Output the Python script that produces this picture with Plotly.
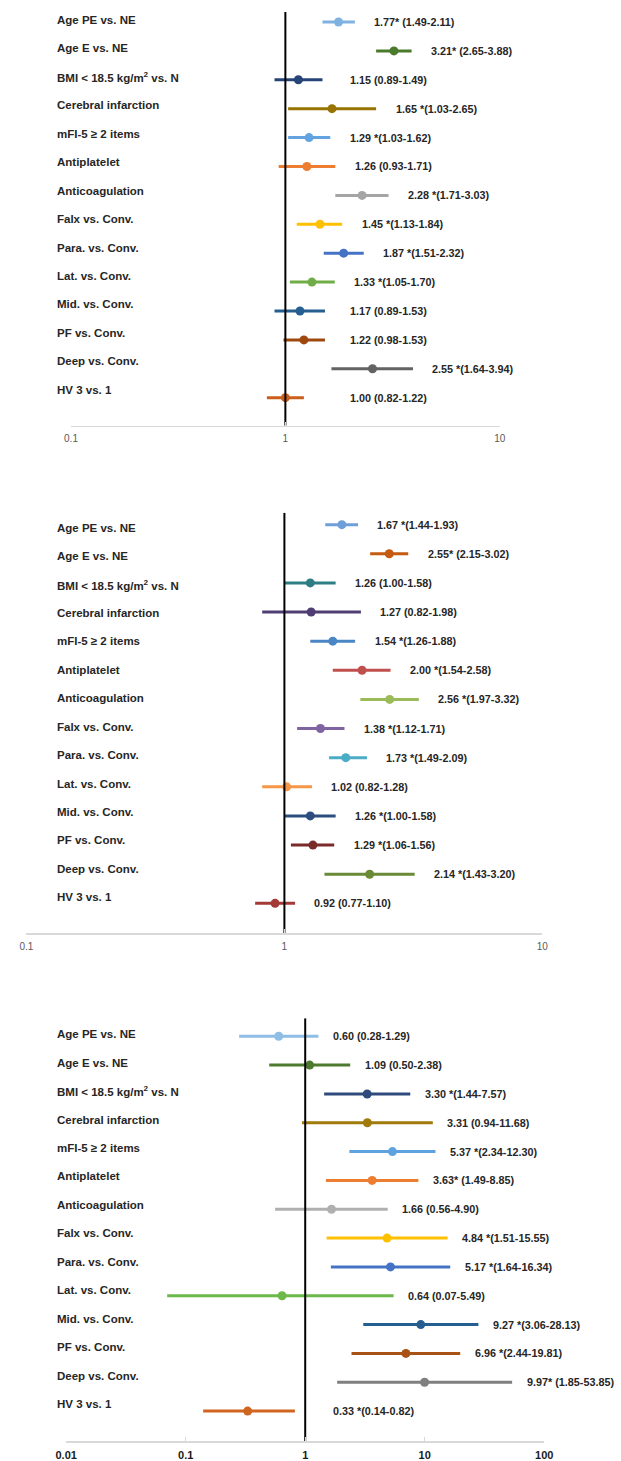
import math
import plotly.graph_objects as go

# ---------------- data ----------------
categories = [
    "Age PE vs. NE", "Age E vs. NE", "BMI < 18.5 kg/m<sup>2</sup> vs. N",
    "Cerebral infarction", "mFI-5 \u2265 2 items", "Antiplatelet", "Anticoagulation",
    "Falx vs. Conv.", "Para. vs. Conv.", "Lat. vs. Conv.", "Mid. vs. Conv.",
    "PF vs. Conv.", "Deep vs. Conv.", "HV 3 vs. 1",
]

p1_or = [1.77, 3.21, 1.15, 1.65, 1.29, 1.26, 2.28, 1.45, 1.87, 1.33, 1.17, 1.22, 2.55, 1.00]
p1_lo = [1.49, 2.65, 0.89, 1.03, 1.03, 0.93, 1.71, 1.13, 1.51, 1.05, 0.89, 0.98, 1.64, 0.82]
p1_hi = [2.11, 3.88, 1.49, 2.65, 1.62, 1.71, 3.03, 1.84, 2.32, 1.70, 1.53, 1.53, 3.94, 1.22]
p1_sig = ["* ", "* ", " ", " *", " *", " ", " *", " *", " *", " *", " ", " ", " *", " "]

p2_or = [1.67, 2.55, 1.26, 1.27, 1.54, 2.00, 2.56, 1.38, 1.73, 1.02, 1.26, 1.29, 2.14, 0.92]
p2_lo = [1.44, 2.15, 1.00, 0.82, 1.26, 1.54, 1.97, 1.12, 1.49, 0.82, 1.00, 1.06, 1.43, 0.77]
p2_hi = [1.93, 3.02, 1.58, 1.98, 1.88, 2.58, 3.32, 1.71, 2.09, 1.28, 1.58, 1.56, 3.20, 1.10]
p2_sig = [" *", "* ", " ", " ", " *", " *", " *", " *", " *", " ", " *", " *", " *", " "]

p3_or = [0.60, 1.09, 3.30, 3.31, 5.37, 3.63, 1.66, 4.84, 5.17, 0.64, 9.27, 6.96, 9.97, 0.33]
p3_lo = [0.28, 0.50, 1.44, 0.94, 2.34, 1.49, 0.56, 1.51, 1.64, 0.07, 3.06, 2.44, 1.85, 0.14]
p3_hi = [1.29, 2.38, 7.57, 11.68, 12.30, 8.85, 4.90, 15.55, 16.34, 5.49, 28.13, 19.81, 53.85, 0.82]
p3_sig = [" ", " ", " *", " ", " *", "* ", " ", " *", " *", " ", " *", " *", "* ", " *"]

ticks_12 = ["0.1", "1", "10"]
ticks_3 = ["0.01", "0.1", "1", "10", "100"]

# ---------------- styles ----------------
colors_1 = ["#7fb2e0", "#4a7a2c", "#264478", "#997300", "#62a3e0", "#ed7d31", "#a5a5a5",
            "#ffc000", "#4472c4", "#70ad47", "#255e91", "#9e480e", "#636363", "#c95f1a"]
colors_2 = ["#6f9fd8", "#c55a11", "#2e7d85", "#4f3d73", "#4a86c5", "#c0504d", "#9bbb59",
            "#8064a2", "#4bacc6", "#f79646", "#2c4d80", "#7a2a28", "#6a8a37", "#a33a38"]
colors_3 = ["#8ebde6", "#4e7a30", "#2f4b7c", "#a07a0a", "#5ea3e0", "#ed7d31", "#b0b0b0",
            "#ffc000", "#4472c4", "#6cb84a", "#255e91", "#a85315", "#7f7f7f", "#cf651f"]

W, H = 621, 1461
FONT = "Liberation Sans, Arial, sans-serif"


def fx(px):
    return px / W


def fy(px):
    return 1 - px / H


panels = [
    dict(orv=p1_or, lo=p1_lo, hi=p1_hi, sig=p1_sig, colors=colors_1, ticks=ticks_12,
         xpx=(62, 505), top=12, axis=426, row0=22, step=28.92, lab0=20, labstep=28.46,
         base_px=348, gap_px=18, tickcolor="#595959", tickbold=False),
    dict(orv=p2_or, lo=p2_lo, hi=p2_hi, sig=p2_sig, colors=colors_2, ticks=ticks_12,
         xpx=(16, 549), top=513, axis=934, row0=525, step=29.15, lab0=528, labstep=28.46,
         base_px=None, gap_px=18, tickcolor="#595959", tickbold=False),
    dict(orv=p3_or, lo=p3_lo, hi=p3_hi, sig=p3_sig, colors=colors_3, ticks=ticks_3,
         xpx=(57, 551), top=1019, axis=1442, row0=1037, step=28.85, lab0=1035, labstep=28.46,
         base_px=331, gap_px=13, tickcolor="#1a1a1a", tickbold=True),
]

fig = go.Figure()
layout = dict(width=W, height=H, margin=dict(l=0, r=0, t=0, b=0, pad=0),
              paper_bgcolor="white", plot_bgcolor="white", showlegend=False,
              font=dict(family=FONT), hovermode=False)
annotations = []

for k, p in enumerate(panels):
    n = k + 1
    xa = "x" if n == 1 else f"x{n}"
    ya = "y" if n == 1 else f"y{n}"
    tickv = [float(t) for t in p["ticks"]]
    lmin, lmax = math.log10(tickv[0]), math.log10(tickv[-1])
    decade_px = (p["xpx"][1] - p["xpx"][0]) / (lmax - lmin)
    ytop = -(p["row0"] - p["top"]) / p["step"]
    ybot = (p["axis"] - p["row0"]) / p["step"]

    ticktext = [f"<b>{t}</b>" if p["tickbold"] else t for t in p["ticks"]]
    layout["xaxis" if n == 1 else f"xaxis{n}"] = dict(
        type="log", range=[lmin, lmax],
        domain=[fx(p["xpx"][0]), fx(p["xpx"][1])], anchor=ya,
        showgrid=False, zeroline=False, showline=True, linecolor="#d9d9d9", linewidth=1.5,
        ticks="inside", ticklen=4, tickcolor="#d9d9d9", tickwidth=1,
        tickvals=tickv, ticktext=ticktext, ticklabelstandoff=3,
        tickfont=dict(size=11 if p["tickbold"] else 10, color=p["tickcolor"], family=FONT),
        fixedrange=True,
    )
    layout["yaxis" if n == 1 else f"yaxis{n}"] = dict(
        range=[ybot, ytop], domain=[fy(p["axis"]), fy(p["top"])], anchor=xa,
        visible=False, fixedrange=True,
    )

    for i, cat in enumerate(categories):
        c = p["colors"][i]
        fig.add_trace(go.Scatter(
            x=[p["orv"][i]], y=[i], mode="markers", xaxis=xa, yaxis=ya,
            marker=dict(size=9, color=c),
            error_x=dict(type="data", symmetric=False,
                         array=[p["hi"][i] - p["orv"][i]],
                         arrayminus=[p["orv"][i] - p["lo"][i]],
                         thickness=3, width=0, color=c),
            hoverinfo="skip",
        ))
        # category label
        annotations.append(dict(
            text=f"<b>{cat}</b>", xref="paper", yref="paper",
            x=fx(45), y=fy(p["lab0"] + i * p["labstep"]),
            xanchor="left", yanchor="middle", showarrow=False,
            font=dict(size=11.5, color="#262626", family=FONT),
        ))
        # value label
        xt = math.log10(p["hi"][i]) + p["gap_px"] / decade_px
        if p["base_px"] is not None:
            base = (p["base_px"] - p["xpx"][0]) / decade_px + lmin
            xt = max(xt, base)
        txt = f"{p['orv'][i]:.2f}{p['sig'][i]}({p['lo'][i]:.2f}-{p['hi'][i]:.2f})"
        annotations.append(dict(
            text=f"<b>{txt}</b>", xref=xa, yref=ya, x=xt, y=i,
            xanchor="left", yanchor="middle", showarrow=False,
            font=dict(size=10.8, color="#262626", family=FONT),
        ))

    # reference line at OR = 1
    fig.add_trace(go.Scatter(
        x=[1, 1], y=[ytop, ybot], mode="lines", xaxis=xa, yaxis=ya,
        line=dict(color="black", width=2), hoverinfo="skip",
    ))

layout["annotations"] = annotations
fig.update_layout(**layout)
fig.write_html(
    "out.html",
    config={"displayModeBar": False, "staticPlot": True},
    post_script="document.body.style.margin='0';document.body.style.overflow='hidden';",
)
